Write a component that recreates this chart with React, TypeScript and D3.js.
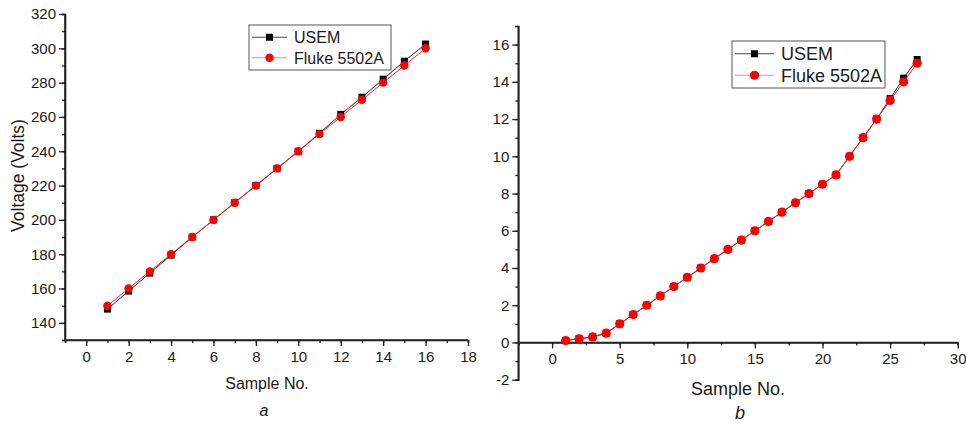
import * as d3 from 'd3'
import { useEffect, useRef } from 'react'

// panel a: 16 samples
const samplesA = d3.range(1, 17)
const usemA = [148, 158.5, 169, 179.5, 190, 200, 210, 220, 230, 240, 250.5, 261.5, 271.5, 282, 292.5, 302.5]
const flukeA = [150, 160, 170, 180, 190, 200, 210, 220, 230, 240, 250, 260, 270, 280, 290, 300]

// panel b: 27 samples
const samplesB = d3.range(1, 28)
const usemB = [0.1, 0.2, 0.3, 0.5, 1, 1.5, 2, 2.5, 3, 3.5, 4, 4.5, 5, 5.5, 6, 6.5, 7, 7.5, 8, 8.5, 9, 10, 11, 12, 13.1, 14.2, 15.2]
const flukeB = [0.1, 0.2, 0.3, 0.5, 1, 1.5, 2, 2.5, 3, 3.5, 4, 4.5, 5, 5.5, 6, 6.5, 7, 7.5, 8, 8.5, 9, 10, 11, 12, 13, 14, 15]

const xTicksA = d3.range(0, 19, 2)
const xMinorA = d3.range(-1, 19, 1)
const yTicksA = d3.range(140, 321, 20)
const yMinorA = d3.range(130, 321, 10)

const xTicksB = d3.range(0, 31, 5)
const xMinorB = d3.range(-2.5, 31, 2.5)
const yTicksB = d3.range(-2, 17, 2)
const yMinorB = d3.range(-2, 18, 1)

const seriesNames = ['USEM', 'Fluke 5502A']
const FONT = '"Liberation Sans", Arial, sans-serif'

function drawPanel(svg, cfg) {
  const g = svg.append('g')
  const x = d3.scaleLinear().domain(cfg.xDomain).range(cfg.xRange)
  const y = d3.scaleLinear().domain(cfg.yDomain).range(cfg.yRange)
  const axisY = y(cfg.xAxisAt)

  // minor ticks first
  g.append('g').attr('transform', `translate(0,${axisY})`)
    .call(d3.axisBottom(x).tickValues(cfg.xMinor).tickSize(3).tickFormat(() => ''))
  g.append('g').attr('transform', `translate(${cfg.xRange[0]},0)`)
    .call(d3.axisLeft(y).tickValues(cfg.yMinor).tickSize(3).tickFormat(() => ''))

  const xa = g.append('g').attr('transform', `translate(0,${axisY})`)
    .call(d3.axisBottom(x).tickValues(cfg.xTicks).tickSize(6).tickPadding(5).tickFormat((d) => String(d)))
  const ya = g.append('g').attr('transform', `translate(${cfg.xRange[0]},0)`)
    .call(d3.axisLeft(y).tickValues(cfg.yTicks).tickSize(6).tickPadding(3).tickFormat((d) => String(d)))

  g.selectAll('.domain').attr('stroke', '#222').attr('stroke-width', 1.6)
  g.selectAll('.tick line').attr('stroke', '#222').attr('stroke-width', 1.3)
  ;[xa, ya].forEach((a) => a.selectAll('text')
    .attr('font-family', FONT).attr('font-size', cfg.tickFont).attr('fill', '#1a1a1a'))
  ya.select('.domain').attr('d', `M0,${cfg.yRange[0]}V${cfg.yRange[1]}`)
  xa.select('.domain').attr('d', `M${cfg.xRange[0]},0H${cfg.xRange[1]}`)

  const line = d3.line().x((d) => x(d[0])).y((d) => y(d[1]))
  const usem = cfg.samples.map((s, i) => [s, cfg.usem[i]])
  const fluke = cfg.samples.map((s, i) => [s, cfg.fluke[i]])

  g.append('path').datum(usem).attr('fill', 'none').attr('stroke', '#222').attr('stroke-width', 1).attr('d', line)
  g.selectAll('.sq').data(usem).join('rect')
    .attr('x', (d) => x(d[0]) - cfg.sq / 2).attr('y', (d) => y(d[1]) - cfg.sq / 2)
    .attr('width', cfg.sq).attr('height', cfg.sq).attr('fill', '#000')
  g.append('path').datum(fluke).attr('fill', 'none').attr('stroke', '#ff2020').attr('stroke-width', 1).attr('d', line)
  g.selectAll('.ci').data(fluke).join('circle')
    .attr('cx', (d) => x(d[0])).attr('cy', (d) => y(d[1])).attr('r', cfg.r).attr('fill', '#ff0000')

  // axis titles
  g.append('text').attr('x', cfg.xTitle[0]).attr('y', cfg.xTitle[1]).attr('text-anchor', 'middle')
    .attr('font-family', FONT).attr('font-size', cfg.titleFont).attr('fill', '#1a1a1a').text('Sample No.')
  if (cfg.yTitle) {
    g.append('text').attr('transform', `translate(${cfg.yTitle[0]},${cfg.yTitle[1]}) rotate(-90)`)
      .attr('text-anchor', 'middle').attr('font-family', FONT).attr('font-size', cfg.yTitleFont)
      .attr('fill', '#1a1a1a').text('Voltage (Volts)')
  }
  g.append('text').attr('x', cfg.letter[0]).attr('y', cfg.letter[1]).attr('text-anchor', 'middle')
    .attr('font-family', FONT).attr('font-style', 'italic').attr('font-size', cfg.titleFont)
    .attr('fill', '#1a1a1a').text(cfg.letterText)

  // legend
  const [lx, ly, lw, lh] = cfg.legend
  const lg = g.append('g').attr('transform', `translate(${lx},${ly})`)
  lg.append('rect').attr('width', lw).attr('height', lh).attr('fill', '#fff')
    .attr('stroke', '#555').attr('stroke-width', 1)
  const rowH = lh / 2
  seriesNames.forEach((name, i) => {
    const cy = rowH * (i + 0.5) + (i === 0 ? 1 : -1)
    lg.append('line').attr('x1', 3).attr('x2', cfg.legLine).attr('y1', cy).attr('y2', cy)
      .attr('stroke', i === 0 ? '#444' : '#ff8080').attr('stroke-width', 1.2)
    if (i === 0) {
      lg.append('rect').attr('x', (3 + cfg.legLine) / 2 - cfg.sq / 2).attr('y', cy - cfg.sq / 2)
        .attr('width', cfg.sq).attr('height', cfg.sq).attr('fill', '#000')
    } else {
      lg.append('circle').attr('cx', (3 + cfg.legLine) / 2).attr('cy', cy).attr('r', cfg.r).attr('fill', '#ff0000')
    }
    lg.append('text').attr('x', cfg.legLine + 7).attr('y', cy).attr('dy', '0.36em')
      .attr('font-family', FONT).attr('font-size', cfg.legFont).attr('fill', '#1a1a1a').text(name)
  })
}

export default function App() {
  const ref = useRef(null)

  useEffect(() => {
    const svg = d3.select(ref.current)
    svg.selectAll('*').remove()
    drawPanel(svg, {
      samples: samplesA, usem: usemA, fluke: flukeA,
      xDomain: [-1, 18], xRange: [65, 468],
      yDomain: [130, 320], yRange: [340, 14], xAxisAt: 130,
      xTicks: xTicksA, xMinor: xMinorA, yTicks: yTicksA, yMinor: yMinorA,
      tickFont: 15, titleFont: 16, yTitleFont: 17.5, legFont: 16, sq: 7, r: 4.2,
      xTitle: [267, 389], yTitle: [24, 175.5], letter: [264, 416], letterText: 'a',
      legend: [249, 25, 142, 45], legLine: 38,
    })
    drawPanel(svg, {
      samples: samplesB, usem: usemB, fluke: flukeB,
      xDomain: [-2.5, 30], xRange: [518.3, 957.7],
      yDomain: [-2, 17], yRange: [379.7, 26], xAxisAt: 0,
      xTicks: xTicksB, xMinor: xMinorB, yTicks: yTicksB, yMinor: yMinorB,
      tickFont: 15, titleFont: 18, legFont: 18, sq: 7, r: 4.6,
      xTitle: [738, 395], letter: [740, 419], letterText: 'b',
      legend: [732, 41, 153, 47], legLine: 42,
    })
  }, [])

  return (
    <svg ref={ref} width={966} height={424}
      style={{ position: 'absolute', left: 0, top: 0, background: '#fff' }} />
  )
}
